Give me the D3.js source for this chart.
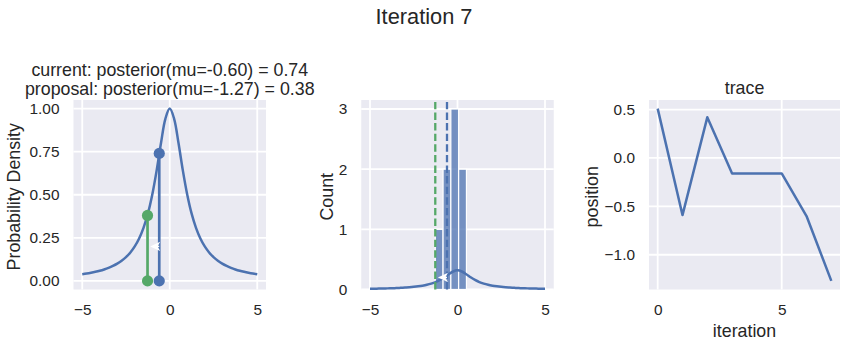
<!DOCTYPE html>
<html><head><meta charset="utf-8">
<script src="https://cdn.jsdelivr.net/npm/d3@7"></script>
<style>
body{margin:0;background:#fff}
svg{display:block}
text{font-family:"Liberation Sans",Arial,sans-serif;fill:#262626}
</style>
</head><body>
<svg id="c" width="848" height="347"></svg>
<script>
// ---------------- data ----------------
const muGrid = [-5,-4.75,-4.5,-4.25,-4,-3.75,-3.5,-3.25,-3,-2.75,-2.5,-2.25,-2,-1.75,-1.5,-1.25,-1,-0.75,-0.5,-0.25,0,
                0.25,0.5,0.75,1,1.25,1.5,1.75,2,2.25,2.5,2.75,3,3.25,3.5,3.75,4,4.25,4.5,4.75,5];
const posterior = [0.0385,0.0424,0.0471,0.0525,0.0588,0.0664,0.0755,0.0865,0.1,0.117,0.138,0.165,0.2,0.246,0.308,0.39,0.5,0.64,0.8,0.941,1,
                   0.941,0.8,0.64,0.5,0.39,0.308,0.246,0.2,0.165,0.138,0.117,0.1,0.0865,0.0755,0.0664,0.0588,0.0525,0.0471,0.0424,0.0385];
const posteriorPdf = [0.0122,0.0135,0.0150,0.0167,0.0187,0.0211,0.0240,0.0275,0.0318,0.0372,0.0439,0.0525,0.0636,0.0782,0.0979,0.124,0.159,0.2035,0.2544,0.2992,0.318,
                      0.2992,0.2544,0.2035,0.159,0.124,0.0979,0.0782,0.0636,0.0525,0.0439,0.0372,0.0318,0.0275,0.0240,0.0211,0.0187,0.0167,0.0150,0.0135,0.0122];
const muCurrent = -0.60, postCurrent = 0.74;
const muProposal = -1.27, postProposal = 0.38;
const arrowY = 0.2, arrowTip = -1.12;
const binEdges = [-1.27,-0.825,-0.38,0.065,0.51];
const binCounts = [1,2,3,2];
const iterations = [0,1,2,3,4,5,6,7];
const trace = [0.51,-0.59,0.42,-0.16,-0.16,-0.16,-0.60,-1.27];
const leftXTicks = [-5,0,5], leftYTicks = [0,0.25,0.5,0.75,1];
const midXTicks = [-5,0,5], midYTicks = [0,1,2,3];
const rightXTicks = [0,5], rightYTicks = [-1,-0.5,0,0.5];

// ---------------- style ----------------
const BLUE = "#4c72b0", GREEN = "#55a868", BG = "#eaeaf2";
const TICK = 15.4, LABEL = 17.8;
const svg = d3.select("#c");
const TOP = 100, BOTTOM = 289.5;

function panel(x0, x1, xs, ys, xt, yt, yfmt) {
  const g = svg.append("g");
  g.append("rect").attr("x", x0).attr("y", TOP).attr("width", x1 - x0).attr("height", BOTTOM - TOP).attr("fill", BG);
  const grid = g.append("g").attr("stroke", "#fff").attr("stroke-width", 1.8);
  xt.forEach(t => grid.append("line").attr("x1", xs(t)).attr("x2", xs(t)).attr("y1", TOP).attr("y2", BOTTOM));
  yt.forEach(t => grid.append("line").attr("y1", ys(t)).attr("y2", ys(t)).attr("x1", x0).attr("x2", x1));
  const ax = g.append("g").attr("transform", `translate(0,${BOTTOM})`)
    .call(d3.axisBottom(xs).tickValues(xt).tickSize(0).tickPadding(15).tickFormat(d3.format("d")));
  const ay = g.append("g").attr("transform", `translate(${x0},0)`)
    .call(d3.axisLeft(ys).tickValues(yt).tickSize(0).tickPadding(14).tickFormat(d3.format(yfmt)));
  [ax, ay].forEach(a => {
    a.select(".domain").remove();
    a.selectAll("text").attr("font-size", TICK).attr("fill", "#262626")
      .attr("font-family", '"Liberation Sans",Arial,sans-serif');
  });
  return g;
}
function ylabel(x, txt) {
  svg.append("text").attr("transform", `translate(${x},${(TOP + BOTTOM) / 2 + 2}) rotate(-90)`)
    .attr("text-anchor", "middle").attr("font-size", LABEL).text(txt);
}

// ---------- left panel ----------
const L0 = 73.5, L1 = 266;
const lx = d3.scaleLinear().domain([-5.5, 5.5]).range([L0, L1]);
const ly = d3.scaleLinear().domain([-0.05, 1.05]).range([BOTTOM, TOP]);
const gl = panel(L0, L1, lx, ly, leftXTicks, leftYTicks, ".2f");
const pts = muGrid.map((m, i) => [m, posterior[i]]);
gl.append("path").datum(pts).attr("fill", "none").attr("stroke", BLUE).attr("stroke-width", 2.5)
  .attr("d", d3.line().x(d => lx(d[0])).y(d => ly(d[1])).curve(d3.curveCatmullRom));
[[muCurrent, postCurrent, BLUE], [muProposal, postProposal, GREEN]].forEach(([m, p, c]) => {
  gl.append("line").attr("x1", lx(m)).attr("x2", lx(m)).attr("y1", ly(0)).attr("y2", ly(p))
    .attr("stroke", c).attr("stroke-width", 2.7);
  [0, p].forEach(v => gl.append("circle").attr("cx", lx(m)).attr("cy", ly(v)).attr("r", 5.6).attr("fill", c));
});
function arrow(g, xs, ys) {
  const tx = xs(arrowTip), ty = ys(arrowY), bx = xs(muCurrent);
  g.append("line").attr("x1", bx).attr("x2", tx + 7).attr("y1", ty).attr("y2", ty)
    .attr("stroke", "#fff").attr("stroke-width", 1.5);
  g.append("path").attr("fill", "#fff")
    .attr("d", `M${tx},${ty} L${tx + 10},${ty - 4.6} L${tx + 7.5},${ty} L${tx + 10},${ty + 4.6} Z`);
}
arrow(gl, lx, ly);
ylabel(20, "Probability Density");
svg.append("text").attr("x", (L0 + L1) / 2).attr("y", 75.5).attr("text-anchor", "middle").attr("font-size", LABEL)
  .text(`current: posterior(mu=${muCurrent.toFixed(2)}) = ${postCurrent.toFixed(2)}`);
svg.append("text").attr("x", (L0 + L1) / 2).attr("y", 95).attr("text-anchor", "middle").attr("font-size", LABEL)
  .text(`proposal: posterior(mu=${muProposal.toFixed(2)}) = ${postProposal.toFixed(2)}`);

// ---------- middle panel ----------
const M0 = 361.25, M1 = 553.75;
const mx = d3.scaleLinear().domain([-5.5, 5.5]).range([M0, M1]);
const my = d3.scaleLinear().domain([0, d3.max(binCounts) * 1.05]).range([BOTTOM, TOP]);
const gm = panel(M0, M1, mx, my, midXTicks, midYTicks, "d");
binCounts.forEach((c, i) => {
  gm.append("rect").attr("x", mx(binEdges[i])).attr("width", mx(binEdges[i + 1]) - mx(binEdges[i]))
    .attr("y", my(c)).attr("height", my(0) - my(c))
    .attr("fill", BLUE).attr("fill-opacity", 0.75).attr("stroke", "#fff").attr("stroke-width", 1.2);
});
gm.append("path").datum(muGrid.map((m, i) => [m, posteriorPdf[i]])).attr("fill", "none").attr("stroke", BLUE)
  .attr("stroke-width", 2.5).attr("d", d3.line().x(d => mx(d[0])).y(d => my(d[1])).curve(d3.curveCatmullRom));
[[muProposal, GREEN], [muCurrent, BLUE]].forEach(([m, c]) => {
  gm.append("line").attr("x1", mx(m)).attr("x2", mx(m)).attr("y1", BOTTOM).attr("y2", TOP)
    .attr("stroke", c).attr("stroke-width", 2.3).attr("stroke-dasharray", "7.4,3.2");
});
arrow(gm, mx, my);
ylabel(333, "Count");

// ---------- right panel ----------
const R0 = 649, R1 = 840;
const rx = d3.scaleLinear().domain([-0.35, 7.35]).range([R0, R1]);
const [tmin, tmax] = d3.extent(trace);
const pad = (tmax - tmin) * 0.05;
const ry = d3.scaleLinear().domain([tmin - pad, tmax + pad]).range([BOTTOM, TOP]);
const gr = panel(R0, R1, rx, ry, rightXTicks, rightYTicks, ".1f");
gr.append("path").datum(iterations.map((t, i) => [t, trace[i]])).attr("fill", "none").attr("stroke", BLUE)
  .attr("stroke-width", 2.5).attr("stroke-linejoin", "round")
  .attr("d", d3.line().x(d => rx(d[0])).y(d => ry(d[1])));
ylabel(597.5, "position");
svg.append("text").attr("x", (R0 + R1) / 2).attr("y", 337).attr("text-anchor", "middle").attr("font-size", LABEL).text("iteration");
svg.append("text").attr("x", (R0 + R1) / 2).attr("y", 94).attr("text-anchor", "middle").attr("font-size", LABEL).text("trace");

// ---------- figure title ----------
svg.append("text").attr("x", 424).attr("y", 23.5).attr("text-anchor", "middle").attr("font-size", 21.8).text("Iteration 7");
</script>
</body></html>
